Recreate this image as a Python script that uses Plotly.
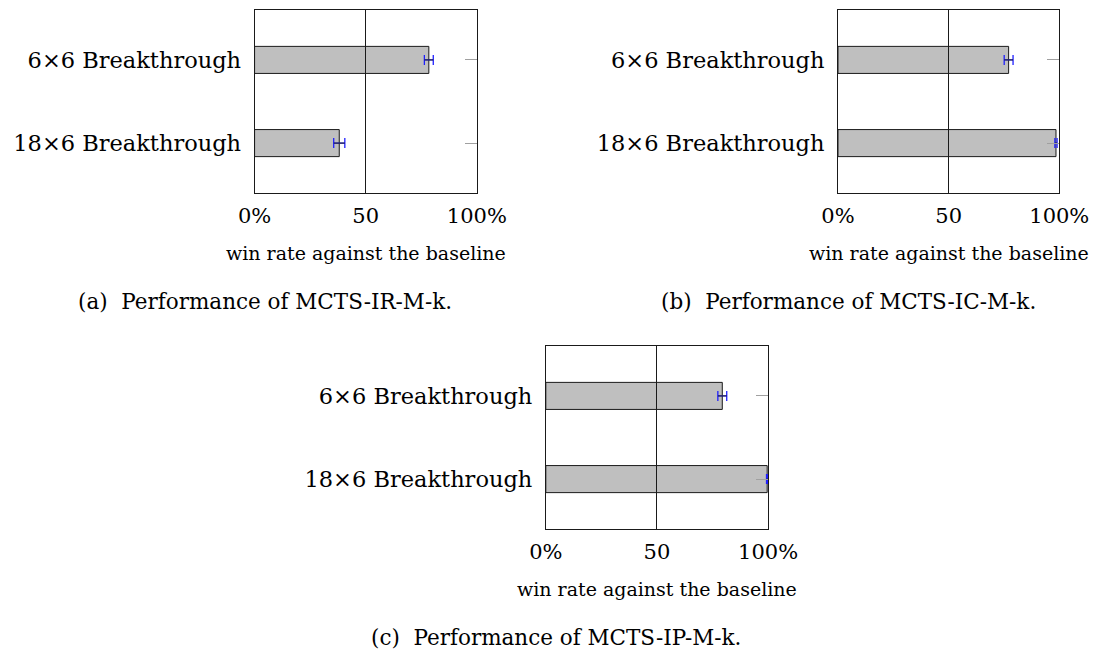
import plotly.graph_objects as go

W, H = 1119, 649

# ---------------- data ----------------
categories = ["6×6 Breakthrough", "18×6 Breakthrough"]
cat_order = ["18×6 Breakthrough", "6×6 Breakthrough"]  # bottom -> top

ir_values = [78.4, 38.1]
ir_errors = [2.0, 2.5]
ic_values = [77.1, 98.5]
ic_errors = [2.0, 0.5]
ip_values = [79.4, 99.6]
ip_errors = [2.0, 0.3]

x_tickvals = [0, 50, 100]
x_ticktext = ["0%", "50", "100%"]
axis_title = "win rate against the baseline"
captions = ["(a)\u00a0 Performance of MCTS-IR-M-k.",
            "(b)\u00a0 Performance of MCTS-IC-M-k.",
            "(c)\u00a0 Performance of MCTS-IP-M-k."]

FONT = "DejaVu Serif"

def px_x(p):
    return p / W

def px_y(p):
    return 1 - p / H

# panel boxes in pixels: (left, right, top, bottom)
boxes = [(248, 480, 10, 193), (857, 1088, 10, 193), (552, 784, 346, 529)]
caption_cx = [259, 868, 563]
series = [(ir_values, ir_errors), (ic_values, ic_errors), (ip_values, ip_errors)]

fig = go.Figure()
layout = dict(
    width=W, height=H, autosize=False,
    margin=dict(l=0, r=0, t=0, b=0),
    paper_bgcolor="white", plot_bgcolor="white",
    showlegend=False,
    font=dict(family=FONT, color="black"),
    annotations=[],
    bargap=0,
)

for i, ((vals, errs), (l, r, t, b)) in enumerate(zip(series, boxes)):
    n = i + 1
    xa = "x" if n == 1 else f"x{n}"
    ya = "y" if n == 1 else f"y{n}"
    ya_right = f"y{n + 3}"
    fig.add_trace(go.Bar(
        x=vals, y=categories, orientation="h", xaxis=xa, yaxis=ya,
        width=0.325,
        marker=dict(color="#bfbfbf", line=dict(color="#1a1a1a", width=1)),
        error_x=dict(type="data", array=errs, color="#1f1fff", thickness=1.3, width=5),
        hoverinfo="skip",
    ))
    # black horizontal part of the error bars
    fig.add_trace(go.Scatter(
        x=vals, y=categories, mode="markers", xaxis=xa, yaxis=ya,
        marker=dict(size=0.1, opacity=0),
        error_x=dict(type="data", array=errs, color="#222222", thickness=1, width=0),
        hoverinfo="skip",
    ))
    # invisible trace to host the right-side tick axis
    fig.add_trace(go.Scatter(
        x=vals, y=[1, 0], mode="markers", xaxis=xa, yaxis=ya_right,
        marker=dict(size=0.1, opacity=0), hoverinfo="skip",
    ))
    xdom = [px_x(l), px_x(r)]
    ydom = [px_y(b), px_y(t)]
    box_h = b - t
    xkey = "xaxis" if n == 1 else f"xaxis{n}"
    ykey = "yaxis" if n == 1 else f"yaxis{n}"
    layout[xkey] = dict(
        domain=xdom, anchor=ya, range=[0, 100], fixedrange=True,
        tickvals=x_tickvals, ticktext=x_ticktext,
        ticks="inside", ticklen=box_h, tickcolor="#1a1a1a", tickwidth=1,
        showgrid=False, zeroline=False,
        showline=True, linecolor="#1a1a1a", linewidth=1, mirror=True,
        tickfont=dict(family=FONT, size=21, color="black"),
        ticklabelstandoff=4,
    )
    layout[ykey] = dict(
        domain=ydom, anchor=xa, type="category",
        categoryorder="array", categoryarray=cat_order,
        range=[-0.6, 1.6], fixedrange=True,
        ticks="", showgrid=False, zeroline=False,
        showline=True, linecolor="#1a1a1a", linewidth=1, mirror=True,
        tickfont=dict(family=FONT, size=22.5, color="black"),
        ticklabelstandoff=8,
    )
    layout[f"yaxis{n + 3}"] = dict(
        overlaying=ya, anchor=xa, side="right",
        range=[-0.6, 1.6], fixedrange=True,
        tickvals=[0, 1], ticks="inside", ticklen=12, tickcolor="#a0a0a0", tickwidth=1,
        showticklabels=False, showgrid=False, zeroline=False, showline=False,
    )
    # axis title
    layout["annotations"].append(dict(
        text=axis_title, xref="paper", yref="paper",
        x=px_x((l + r) / 2), y=px_y(b + 60), xanchor="center", yanchor="middle",
        showarrow=False, font=dict(family=FONT, size=19, color="black"),
    ))
    # caption
    layout["annotations"].append(dict(
        text=captions[i], xref="paper", yref="paper",
        x=px_x(caption_cx[i]), y=px_y(b + 108), xanchor="center", yanchor="middle",
        showarrow=False, font=dict(family=FONT, size=21.5, color="black"),
    ))

fig.update_layout(**layout)
fig.write_html("out.html", config={"displayModeBar": False, "staticPlot": True})

# remove the default page margin so the figure sits at the window origin
with open("out.html", "r", encoding="utf-8") as f:
    html = f.read()
html = html.replace("<head>", "<head><style>html,body{margin:0;padding:0;overflow:hidden;}</style>", 1)
with open("out.html", "w", encoding="utf-8") as f:
    f.write(html)
